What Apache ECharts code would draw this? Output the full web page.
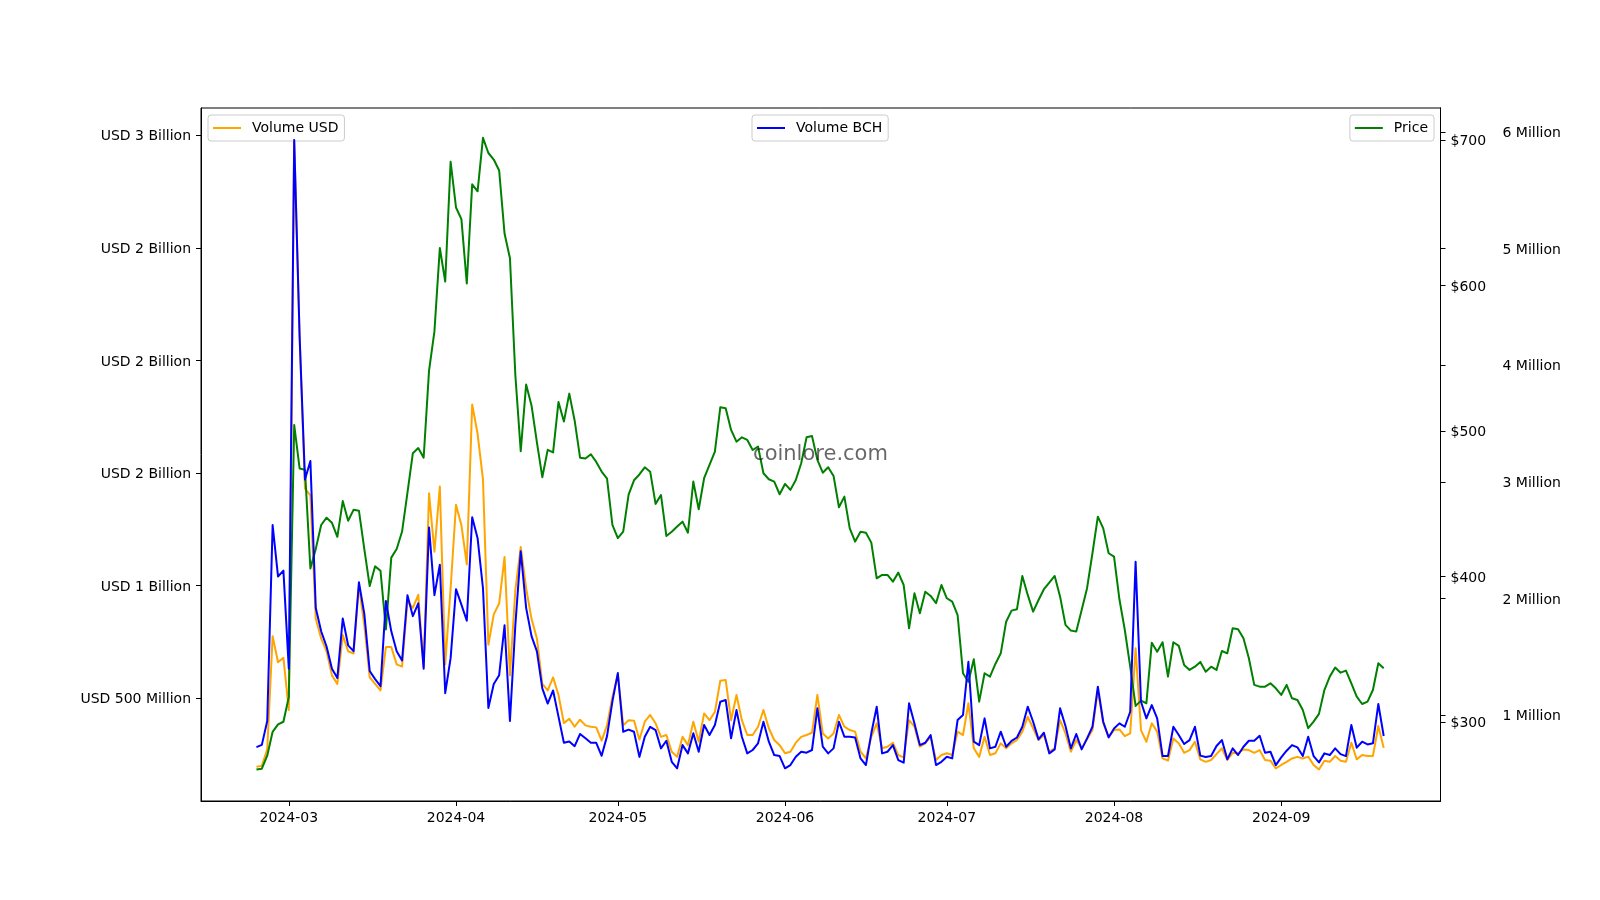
<!DOCTYPE html>
<html><head><meta charset="utf-8">
<script src="https://cdn.jsdelivr.net/npm/echarts@6/dist/echarts.min.js"></script>
<style>html,body{margin:0;padding:0;background:#fff}#chart{width:1600px;height:900px}</style>
</head><body><div id="chart"></div>
<script>
// ---- data (one value per day, starting at startDate) ----
const startDate = '2024-02-24';
const volumeUsdBillions = [
0.195,0.199,0.273,0.775,0.659,0.679,0.447,2.98,2.11,1.43,
1.40,0.852,0.765,0.708,0.601,0.563,0.780,0.708,0.698,0.998,
0.824,0.592,0.563,0.534,0.727,0.727,0.650,0.640,0.930,0.901,
0.959,0.640,1.41,1.15,1.44,0.650,0.988,1.359,1.268,1.094,
1.804,1.674,1.471,0.737,0.872,0.920,1.127,0.601,0.978,1.171,
0.988,0.852,0.765,0.563,0.534,0.592,0.514,0.389,0.408,0.373,
0.404,0.379,0.373,0.370,0.311,0.379,0.505,0.605,0.379,0.402,
0.400,0.316,0.395,0.425,0.388,0.328,0.336,0.262,0.239,0.328,
0.291,0.395,0.306,0.432,0.402,0.439,0.577,0.580,0.402,0.514,
0.402,0.336,0.336,0.373,0.447,0.366,0.314,0.291,0.255,0.262,
0.302,0.328,0.336,0.346,0.514,0.343,0.321,0.343,0.425,0.373,
0.358,0.351,0.262,0.232,0.328,0.388,0.277,0.284,0.302,0.247,
0.237,0.402,0.373,0.284,0.299,0.328,0.225,0.247,0.255,0.247,
0.351,0.336,0.477,0.277,0.239,0.328,0.247,0.255,0.299,0.277,
0.299,0.314,0.351,0.417,0.366,0.314,0.336,0.262,0.277,0.402,
0.343,0.262,0.314,0.277,0.317,0.358,0.536,0.388,0.328,0.358,
0.361,0.331,0.343,0.721,0.358,0.306,0.388,0.351,0.232,0.222,
0.321,0.299,0.257,0.269,0.306,0.228,0.217,0.225,0.251,0.277,
0.225,0.257,0.255,0.272,0.269,0.257,0.269,0.225,0.222,0.188,
0.203,0.217,0.232,0.239,0.232,0.240,0.203,0.183,0.222,0.217,
0.243,0.222,0.217,0.302,0.228,0.247,0.243,0.243,0.376,0.279
];
const volumeBchMillions = [
0.728,0.747,0.952,2.63,2.19,2.24,1.40,5.93,4.25,3.02,
3.18,1.92,1.72,1.59,1.40,1.32,1.83,1.60,1.55,2.14,
1.87,1.38,1.31,1.25,1.98,1.72,1.55,1.47,2.03,1.85,
1.96,1.40,2.61,2.03,2.29,1.19,1.49,2.081,1.948,1.810,
2.697,2.518,2.089,1.063,1.269,1.344,1.772,0.952,1.772,2.406,
1.921,1.679,1.548,1.231,1.101,1.213,0.989,0.765,0.776,0.736,
0.840,0.803,0.765,0.765,0.653,0.822,1.120,1.362,0.859,0.877,
0.859,0.644,0.817,0.902,0.874,0.717,0.782,0.602,0.546,0.745,
0.674,0.846,0.688,0.917,0.831,0.917,1.117,1.131,0.803,1.045,
0.817,0.674,0.703,0.760,0.945,0.774,0.660,0.651,0.546,0.574,
0.645,0.688,0.680,0.703,1.060,0.731,0.674,0.717,0.945,0.817,
0.817,0.811,0.631,0.574,0.846,1.074,0.674,0.688,0.745,0.617,
0.594,1.103,0.931,0.745,0.765,0.831,0.574,0.602,0.645,0.631,
0.960,1.003,1.459,0.774,0.745,0.974,0.717,0.731,0.860,0.731,
0.781,0.810,0.902,1.074,0.945,0.794,0.851,0.674,0.708,1.060,
0.908,0.717,0.840,0.708,0.803,0.902,1.245,0.945,0.811,0.888,
0.931,0.902,1.031,2.316,1.117,0.974,1.088,0.974,0.651,0.651,
0.902,0.831,0.754,0.788,0.902,0.655,0.643,0.651,0.737,0.788,
0.623,0.717,0.660,0.731,0.782,0.782,0.825,0.680,0.688,0.574,
0.640,0.697,0.745,0.726,0.651,0.817,0.651,0.597,0.674,0.660,
0.717,0.668,0.651,0.917,0.723,0.774,0.751,0.760,1.097,0.823
];
const priceUsd = [
267.6,268.2,277.1,293.5,298.6,300.4,317.4,504.2,474.3,473.4,
405.6,419.1,435.5,440.5,437.0,427.4,451.9,438.4,445.9,445.3,
419.0,393.6,407.1,404.1,363.8,413.1,419.0,431.0,457.8,484.8,
488.3,481.7,541.5,568.4,625.7,602.7,684.9,653.5,645.5,601.3,
669.4,664.6,701.3,690.9,686.4,678.9,635.6,618.6,538.5,486.2,
531.9,517.6,492.2,468.3,487.1,485.3,520.0,506.5,525.7,507.1,
481.7,481.1,484.1,478.8,472.2,467.4,435.5,426.5,431.0,456.3,
466.2,470.2,475.1,472.1,450.0,456.1,428.0,430.9,434.4,437.8,
430.2,465.3,446.3,467.6,476.7,485.9,516.3,515.7,500.8,492.7,
495.7,493.9,487.0,489.3,471.0,466.9,465.3,456.6,463.7,459.6,
466.4,477.9,495.7,496.6,480.2,471.4,475.1,469.2,447.7,455.0,
433.2,424.1,430.9,430.2,423.4,398.9,401.2,401.2,396.6,402.8,
394.3,364.6,388.6,374.9,389.7,386.8,381.8,394.3,385.2,382.9,
373.7,333.7,327.9,343.3,314.2,333.7,331.4,340.1,347.4,369.1,
376.7,377.6,400.5,387.5,376.0,384.0,391.4,395.9,400.5,386.3,
366.9,363.0,362.3,377.2,392.1,416.1,441.2,433.2,416.1,413.8,
384.5,363.4,338.2,311.3,314.9,313.1,354.7,348.5,355.0,331.4,
355.0,352.5,339.4,336.0,338.2,341.5,334.8,338.2,336.0,349.0,
347.4,364.6,363.9,357.7,344.0,325.7,324.5,324.5,326.8,323.4,
318.8,325.7,316.5,315.4,308.5,296.0,300.5,305.8,322.2,331.4,
337.6,334.1,335.5,326.8,317.6,312.6,314.2,322.2,340.6,337.1
];
const xTickMonths = ['2024-03','2024-04','2024-05','2024-06','2024-07','2024-08','2024-09'];
const leftTickValues = [0.5, 1, 1.5, 2, 2.5, 3];
const leftTickLabels = ['USD 500 Million','USD 1 Billion','USD 2 Billion','USD 2 Billion','USD 2 Billion','USD 3 Billion'];
const priceTickValues = [300, 400, 500, 600, 700];
const priceTickLabels = ['$300','$400','$500','$600','$700'];
const bchTickValues = [1, 2, 3, 4, 5, 6];
const bchTickLabels = ['1 Million','2 Million','3 Million','4 Million','5 Million','6 Million'];

// ---- build ----
const DAY = 86400000;
const t0 = Date.parse(startDate + 'T00:00:00Z');
const times = volumeUsdBillions.map((_, i) => t0 + i * DAY);
const monthTimes = xTickMonths.map(m => Date.parse(m + '-01T00:00:00Z'));
// x-range padding (layout), in days
const xMin = monthTimes[0] - 16.28 * DAY;
const xMax = times[times.length - 1] + 10.53 * DAY;

function lookup(vals, labels, rich) {
  return function (v) {
    for (let i = 0; i < vals.length; i++) if (Math.abs(vals[i] - v) < 1e-6 * Math.max(1, Math.abs(v))) return rich ? '{a|' + labels[i] + '}' : labels[i];
    return '';
  };
}
const font = 'DejaVu Sans';
function axisBase(extra) {
  return Object.assign({
    axisLine: { show: true, onZero: false, lineStyle: { color: '#000', width: 1 } },
    splitLine: { show: false },
  }, extra);
}
const yLabel = (vals, labels, margin) => ({
  customValues: vals, formatter: lookup(vals, labels, true), margin: margin,
  color: '#000', fontFamily: font, fontSize: 14,
  rich: { a: { color: '#000', fontFamily: font, fontSize: 14, padding: [3, 0, 0, 0] } }
});
const yTick = (vals) => ({ show: true, inside: false, length: 5, customValues: vals, lineStyle: { color: '#000' } });
const legendBase = {
  orient: 'horizontal', icon: 'rect', itemWidth: 28, itemHeight: 2,
  padding: [6, 6, 6, 5], backgroundColor: 'rgba(255,255,255,0.8)',
  borderColor: '#cccccc', borderWidth: 1, borderRadius: 3, selectedMode: false,
  textStyle: { fontFamily: font, fontSize: 14, color: '#000', padding: [0, 0, 0, 6] },
  top: 115
};

const chart = echarts.init(document.getElementById('chart'), null, { renderer: 'canvas' });
chart.setOption({
  animation: false,
  backgroundColor: '#fff',
  grid: { left: 201, right: 159.5, top: 108, bottom: 99, show: true, borderColor: '#000', borderWidth: 1, backgroundColor: 'transparent' },
  xAxis: axisBase({
    type: 'value', min: xMin, max: xMax, position: 'bottom',
    axisTick: yTick(monthTimes),
    axisLabel: { customValues: monthTimes, formatter: lookup(monthTimes, xTickMonths, false), margin: 10, color: '#000', fontFamily: font, fontSize: 14 }
  }),
  yAxis: [
    axisBase({ type: 'value', position: 'left', min: 0.043, max: 3.121,
      axisTick: yTick(leftTickValues), axisLabel: yLabel(leftTickValues, leftTickLabels, 10) }),
    axisBase({ type: 'value', position: 'right', offset: 0, min: 246.0, max: 721.8,
      axisTick: yTick(priceTickValues), axisLabel: yLabel(priceTickValues, priceTickLabels, 10) }),
    axisBase({ type: 'value', position: 'right', offset: 0, min: 0.266, max: 6.204,
      axisTick: yTick(bchTickValues), axisLabel: yLabel(bchTickValues, bchTickLabels, 62) })
  ],
  legend: [
    Object.assign({}, legendBase, { data: ['Volume USD'], left: 208 }),
    Object.assign({}, legendBase, { data: ['Volume BCH'], left: 752 }),
    Object.assign({}, legendBase, { data: ['Price'], right: 166 })
  ],
  series: [
    { name: 'Volume USD', type: 'line', yAxisIndex: 0, showSymbol: false, symbol: 'none', z: 2,
      data: times.map((t, i) => [t, volumeUsdBillions[i]]),
      itemStyle: { color: '#FFA500' }, lineStyle: { color: '#FFA500', width: 2, join: 'round' } },
    { name: 'Price', type: 'line', yAxisIndex: 1, showSymbol: false, symbol: 'none', z: 3,
      data: times.map((t, i) => [t, priceUsd[i]]),
      itemStyle: { color: '#008000' }, lineStyle: { color: '#008000', width: 2, join: 'round' } },
    { name: 'Volume BCH', type: 'line', yAxisIndex: 2, showSymbol: false, symbol: 'none', z: 4,
      data: times.map((t, i) => [t, volumeBchMillions[i]]),
      itemStyle: { color: '#0000FF' }, lineStyle: { color: '#0000FF', width: 2, join: 'round' } }
  ],
  graphic: [{
    type: 'text', x: 820.5, y: 454.5, z: 100,
    style: { text: 'coinlore.com', fill: 'rgba(0,0,0,0.6)', font: '21px "DejaVu Sans"', align: 'center', verticalAlign: 'middle', textAlign: 'center', textVerticalAlign: 'middle' }
  }]
});
</script>
</body></html>
